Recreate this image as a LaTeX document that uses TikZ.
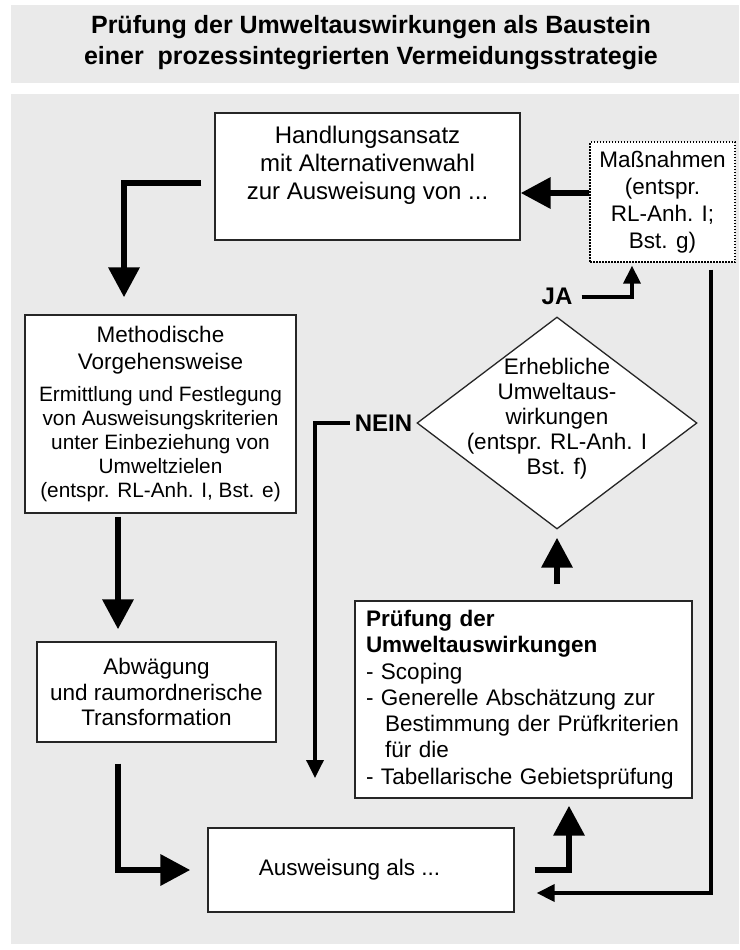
\documentclass[tikz,border=0pt]{standalone}
\usepackage{fontspec}
\setmainfont{Liberation Sans}
\usetikzlibrary{arrows.meta,shapes.geometric}
\definecolor{hintergrund}{RGB}{234,234,234}
\newcommand{\kleintext}{\fontsize{20.8}{24}\selectfont}

\begin{document}
\begin{tikzpicture}[x=1pt, y=-1pt,
  kasten/.style={draw=black!85, line width=1.3pt, fill=white, align=center, inner sep=0pt, font=\fontsize{22.5}{26}\selectfont},
  raute/.style={diamond, draw=black!85, line width=1.3pt, fill=white, minimum width=280pt, minimum height=212pt, inner sep=0pt},
  dick/.style={line width=6.5pt, -{Triangle[length=30pt,width=30pt]}},
  duenn/.style={line width=3.5pt, -{Triangle[length=18pt,width=17pt]}},
  fett/.style={font=\fontsize{24}{28}\selectfont\bfseries, inner sep=0pt}]
  \useasboundingbox (0,0) rectangle (739,950);
  \fill[hintergrund] (10.5,5) rectangle (739,83);
  \fill[hintergrund] (10.5,94) rectangle (739,944);
  \node[font=\fontsize{25}{31}\selectfont\bfseries, align=center] (titel) at (371,43) {Prüfung der Umweltauswirkungen als Baustein\\einer\ \ prozessintegrierten Vermeidungsstrategie};

  \node[kasten, minimum width=305pt, minimum height=127pt, font=\fontsize{24}{28}\selectfont] (handlung) at (367.5,176.5) {Handlungsansatz\\mit Alternativenwahl\\zur Ausweisung von ...\\\mbox{}};
  \node[kasten, minimum width=145pt, minimum height=120pt, draw=black, dash pattern=on 1.5pt off 1.5pt, font=\fontsize{22.5}{27}\selectfont] (massnahmen) at (662.5,202) {Maßnahmen\\(entspr.\\RL-Anh. I;\\Bst. g)};
  \node[kasten, minimum width=271pt, minimum height=198pt, font=\fontsize{22.5}{27}\selectfont] (methodik) at (160.5,414) {Methodische\\Vorgehensweise\\[5pt]{\kleintext Ermittlung und Festlegung}\\[-3pt]{\kleintext von Ausweisungskriterien}\\[-3pt]{\kleintext unter Einbeziehung von}\\[-3pt]{\kleintext Umweltzielen}\\[-3pt]{\kleintext (entspr. RL-Anh. I, Bst. e)}};
  \node[kasten, minimum width=239pt, minimum height=100pt, font=\fontsize{22.5}{25.5}\selectfont] (abwaegung) at (156.5,692) {Abwägung\\und raumordnerische\\Transformation};
  \node[raute] (erheblich) at (557,423) {};
  \node[align=center, font=\fontsize{22.5}{25}\selectfont] (erheblichtext) at (557,419) {Erhebliche\\Umweltaus-\\wirkungen\\(entspr. RL-Anh. I\\Bst. f)};
  \node[kasten, minimum width=337pt, minimum height=197pt, text width=315pt, align=left, inner xsep=11pt, font=\fontsize{22.5}{26.3}\selectfont] (pruefung) at (523.5,699.5) {\textbf{Prüfung der}\\\textbf{Umweltauswirkungen}\\- Scoping\\- Generelle Abschätzung zur\\\hspace*{19pt}Bestimmung der Prüfkriterien\\\hspace*{19pt}für die\\- Tabellarische Gebietsprüfung};
  \node[kasten, minimum width=306pt, minimum height=84pt] (ausweisung) at (361,870) {Ausweisung als ...\hspace*{23pt}};

  \node[fett, anchor=east] (nein) at ([xshift=-4pt]erheblich.west) {NEIN};
  \node[fett, anchor=south] (ja) at ([yshift=11pt]erheblich.north) {JA};
  \coordinate (neinende) at (315,778);

  \draw[dick] (massnahmen.west |- 0,193) -- (handlung.east |- 0,193);
  \draw[dick, shorten <=13pt, shorten >=17pt] (handlung.west |- 0,183) -| (methodik.north -| 124,0);
  \draw[dick, shorten <=3pt, shorten >=12pt] (methodik.south -| 118,0) -- (abwaegung.north -| 118,0);
  \draw[dick, shorten <=21pt, shorten >=17pt] (abwaegung.south -| 118,0) |- (ausweisung.west);
  \draw[dick, shorten <=20pt, shorten >=7pt] (ausweisung.east) -| (pruefung.south -| 569,0);
  \draw[dick, shorten <=16pt, shorten >=8pt] (pruefung.north -| erheblich.south) -- (erheblich.south);
  \draw[duenn, shorten <=5pt] (nein.west) -| (neinende);
  \draw[duenn, shorten <=9pt, shorten >=3pt] (ja.east) -| (massnahmen.south -| 632,0);
  \draw[duenn, shorten <=7pt, shorten >=22pt] (massnahmen.south -| 711,0) |- ([yshift=-23pt]ausweisung.east);
\end{tikzpicture}
\end{document}
